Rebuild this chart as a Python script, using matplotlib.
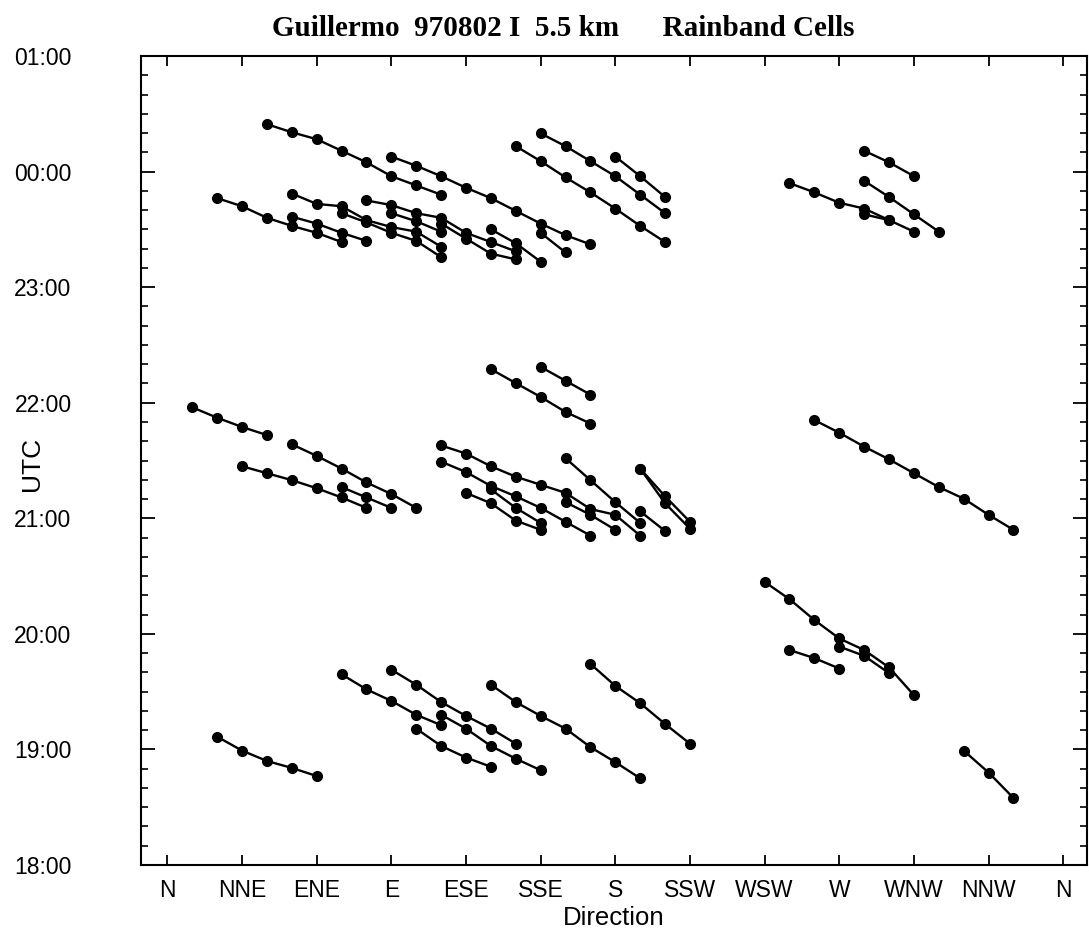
import matplotlib
matplotlib.use("Agg")
import matplotlib.pyplot as plt
from matplotlib.ticker import MultipleLocator, FuncFormatter

plt.rcParams['font.family'] = ['Liberation Sans', 'DejaVu Sans']

# direction ticks (degrees) and their labels
dir_ticks = [0, 30, 60, 90, 120, 150, 180, 210, 240, 270, 300, 330, 360]
dir_labels = ['N', 'NNE', 'ENE', 'E', 'ESE', 'SSE', 'S', 'SSW', 'WSW', 'W', 'WNW', 'NNW', 'N']

# UTC hours (values above 24 are after midnight)
hour_ticks = [18, 19, 20, 21, 22, 23, 24, 25]

# cell tracks: (direction deg, time in hours)
late_cells = [
    ([40, 50, 60, 70, 80, 90, 100, 110], [24.41, 24.34, 24.28, 24.18, 24.08, 23.96, 23.88, 23.80]),
    ([90, 100, 110, 120, 130, 140, 150, 160, 170], [24.13, 24.05, 23.96, 23.86, 23.77, 23.66, 23.55, 23.45, 23.37]),
    ([20, 30, 40, 50, 60, 70], [23.77, 23.70, 23.60, 23.53, 23.47, 23.39]),
    ([50, 60, 70, 80], [23.61, 23.55, 23.47, 23.40]),
    ([50, 60, 70, 80, 90, 100, 110], [23.81, 23.72, 23.70, 23.58, 23.52, 23.48, 23.35]),
    ([70, 80, 90, 100, 110], [23.64, 23.56, 23.47, 23.40, 23.26]),
    ([90, 100, 110], [23.64, 23.57, 23.48]),
    ([80, 90, 100, 110, 120, 130, 140], [23.75, 23.71, 23.64, 23.60, 23.47, 23.39, 23.31]),
    ([110, 120, 130, 140], [23.55, 23.42, 23.29, 23.24]),
    ([130, 140, 150], [23.50, 23.38, 23.22]),
    ([150, 160], [23.47, 23.30]),
    ([150, 160, 170, 180, 190, 200], [24.33, 24.22, 24.09, 23.96, 23.80, 23.64]),
    ([140, 150, 160, 170, 180, 190, 200], [24.22, 24.09, 23.95, 23.82, 23.68, 23.53, 23.39]),
    ([180, 190, 200], [24.13, 23.96, 23.78]),
    ([250, 260, 270, 280, 290, 300], [23.90, 23.82, 23.73, 23.68, 23.58, 23.48]),
    ([280, 290], [23.63, 23.58]),
    ([280, 290, 300], [24.18, 24.08, 23.96]),
    ([280, 290, 300, 310], [23.92, 23.78, 23.63, 23.48]),
]

mid_cells = [
    ([10, 20, 30, 40], [21.96, 21.87, 21.79, 21.72]),
    ([50, 60, 70, 80, 90, 100], [21.64, 21.54, 21.43, 21.31, 21.21, 21.09]),
    ([30, 40, 50, 60, 70, 80], [21.45, 21.39, 21.33, 21.26, 21.18, 21.09]),
    ([70, 80, 90], [21.27, 21.18, 21.09]),
    ([130, 140, 150, 160, 170], [22.29, 22.17, 22.05, 21.92, 21.82]),
    ([150, 160, 170], [22.31, 22.19, 22.07]),
    ([110, 120, 130, 140, 150, 160, 170, 180, 190], [21.63, 21.56, 21.45, 21.36, 21.29, 21.22, 21.08, 21.03, 20.85]),
    ([110, 120, 130, 140, 150, 160, 170], [21.49, 21.40, 21.28, 21.19, 21.09, 20.97, 20.85]),
    ([120, 130, 140, 150], [21.22, 21.13, 20.98, 20.90]),
    ([130, 140, 150], [21.25, 21.09, 20.96]),
    ([160, 170, 180], [21.14, 21.03, 20.90]),
    ([160, 170, 180, 190], [21.52, 21.33, 21.14, 20.96]),
    ([190, 200, 210], [21.43, 21.19, 20.97]),
    ([190, 200, 210], [21.43, 21.13, 20.91]),
    ([190, 200], [21.06, 20.89]),
    ([260, 270, 280, 290, 300, 310, 320, 330, 340], [21.85, 21.74, 21.62, 21.51, 21.39, 21.27, 21.17, 21.03, 20.90]),
]

early_cells = [
    ([20, 30, 40, 50, 60], [19.11, 18.99, 18.90, 18.84, 18.77]),
    ([70, 80, 90, 100, 110], [19.65, 19.52, 19.42, 19.30, 19.21]),
    ([90, 100, 110, 120, 130, 140], [19.69, 19.56, 19.41, 19.29, 19.18, 19.05]),
    ([110, 120, 130, 140, 150], [19.30, 19.18, 19.03, 18.92, 18.82]),
    ([100, 110, 120, 130], [19.18, 19.03, 18.93, 18.85]),
    ([130, 140, 150, 160, 170, 180, 190], [19.56, 19.41, 19.29, 19.18, 19.02, 18.89, 18.75]),
    ([170, 180, 190, 200, 210], [19.74, 19.55, 19.40, 19.22, 19.05]),
    ([250, 260, 270], [19.86, 19.79, 19.70]),
    ([240, 250, 260, 270, 280, 290, 300], [20.45, 20.30, 20.12, 19.96, 19.86, 19.71, 19.47]),
    ([270, 280, 290], [19.89, 19.81, 19.66]),
    ([320, 330, 340], [18.99, 18.80, 18.58]),
]

fig = plt.figure(figsize=(10.89, 9.43), dpi=100)
ax = fig.add_axes([141 / 1089, 1 - 865 / 943, 1 - 141 / 1089 - 0.0015, (865 - 56) / 943])

for dirs, times in late_cells + mid_cells + early_cells:
    ax.plot(dirs, times, '-o', color='black', lw=1.7, ms=7, mec='black', mfc='black')

ax.set_xlim(-10.6, 369.7)
ax.set_ylim(18, 25)

ax.set_xticks(dir_ticks)
ax.set_xticklabels(dir_labels)
ax.set_yticks(hour_ticks)
ax.yaxis.set_major_formatter(FuncFormatter(lambda v, p: '%02d:00' % (int(round(v)) % 24)))
ax.yaxis.set_minor_locator(MultipleLocator(1 / 6))

ax.tick_params(axis='x', which='major', direction='in', length=7, width=1.3, top=True,
               labelsize=16.5, pad=10)
ax.tick_params(axis='y', which='major', direction='in', length=10, width=1.3, right=True,
               labelsize=16.5, pad=50)
ax.tick_params(axis='y', which='minor', direction='in', length=5, width=1.2, right=True)

for s in ax.spines.values():
    s.set_linewidth(1.5)

ax.set_xlabel('Direction', fontsize=18.5, labelpad=3)
ax.set_ylabel('UTC', fontsize=19)
ax.yaxis.set_label_coords(-0.102, 0.496)

fig.text(563 / 1089, 1 - 28 / 943, 'Guillermo  970802 I  5.5 km      Rainband Cells',
         ha='center', va='center', fontsize=21, fontweight='bold',
         family=['Liberation Serif', 'DejaVu Serif'])

fig.savefig('out.png', dpi=100)
